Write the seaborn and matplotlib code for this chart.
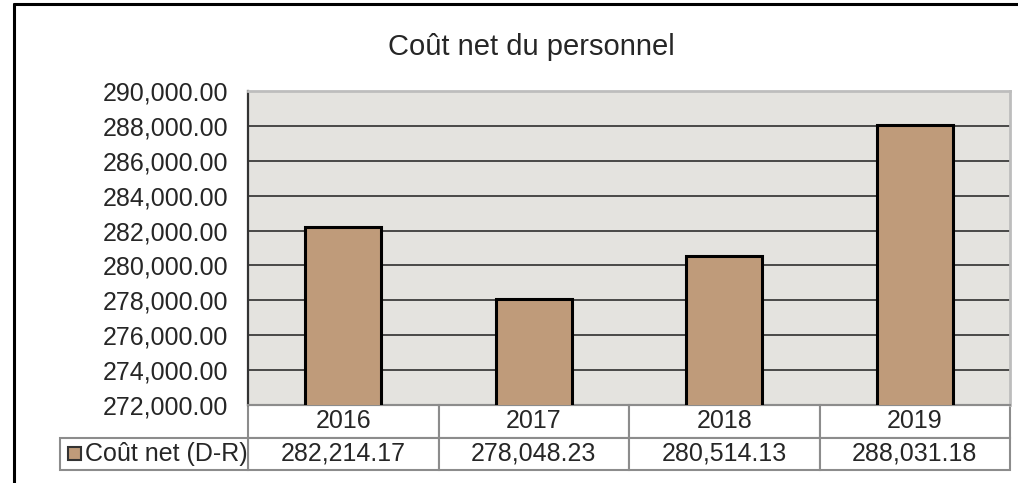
import matplotlib

matplotlib.use("Agg")

import matplotlib.pyplot as plt
import matplotlib.transforms as mtransforms
import pandas as pd
import seaborn as sns
from matplotlib.lines import Line2D
from matplotlib.patches import Rectangle

years = ["2016", "2017", "2018", "2019"]
net_cost = [282214.17, 278048.23, 280514.13, 288031.18]
series_label = "Coût net (D-R)"
title = "Coût net du personnel"
y_ticks = list(range(272000, 290001, 2000))

BAR = "#BF9B7A"
BG = "#E4E3DF"
GRID = "#3C3C3C"
CELL = "#8C8C8C"
FS = 18

sns.set_style("white")
plt.rcParams["font.family"] = ["Liberation Sans", "DejaVu Sans"]

df = pd.DataFrame({"year": years, "value": net_cost})

fig = plt.figure(figsize=(10.18, 4.83), dpi=100)
W, H = 1018, 483
ax = fig.add_axes([248 / W, (H - 405) / H, (1010 - 248) / W, (405 - 91) / H])
ax.set_facecolor(BG)

sns.barplot(data=df, x="year", y="value", color=BAR, width=0.4,
            edgecolor="black", linewidth=2.2, saturation=1, ax=ax, zorder=3)

ax.set_ylim(y_ticks[0], y_ticks[-1])
ax.set_xlim(-0.5, len(years) - 0.5)
ax.set_yticks(y_ticks)
ax.set_yticklabels([f"{v:,.2f}" for v in y_ticks], fontsize=FS)
ax.tick_params(axis="y", length=0, pad=14)
ax.set_xticks([])
ax.set_xlabel("")
ax.set_ylabel("")
for v in y_ticks[1:-1]:
    ax.axhline(v, color=GRID, lw=1.3, zorder=1)

for side in ["top", "right"]:
    ax.spines[side].set_color("#BDBDBD")
    ax.spines[side].set_linewidth(2)
ax.spines["left"].set_color("#333333")
ax.spines["left"].set_linewidth(1.6)
ax.spines["bottom"].set_color(CELL)
ax.spines["bottom"].set_linewidth(1.5)

fig.text(531 / W, 1 - 47 / H, title, fontsize=21, ha="center", va="center")

# data table below the plot area
trans = mtransforms.blended_transform_factory(ax.transData, ax.transAxes)
cat_px = (1010 - 248) / len(years)
row_h = 32.5 / 314
for i, (yr, val) in enumerate(zip(years, net_cost)):
    for r, txt in enumerate([yr, f"{val:,.2f}"]):
        y0 = -row_h * (r + 1)
        ax.add_patch(Rectangle((i - 0.5, y0), 1, row_h, transform=trans,
                               facecolor="white", edgecolor=CELL, lw=1.5,
                               clip_on=False, zorder=2))
        ax.text(i, y0 + row_h / 2, txt, transform=trans, ha="center",
                va="center", fontsize=FS, clip_on=False)

leg_w = 188 / cat_px
leg_x = -0.5 - leg_w
ax.add_patch(Rectangle((leg_x, -2 * row_h), leg_w, row_h, transform=trans,
                       facecolor="white", edgecolor=CELL, lw=1.5,
                       clip_on=False, zorder=2))
sq = 13
ax.add_patch(Rectangle((leg_x + 8 / cat_px, -1.5 * row_h - sq / 2 / 314),
                       sq / cat_px, sq / 314, transform=trans,
                       facecolor=BAR, edgecolor="#333333", lw=1.5,
                       clip_on=False, zorder=4))
ax.text(leg_x + 25 / cat_px, -1.5 * row_h, series_label, transform=trans,
        ha="left", va="center", fontsize=FS, clip_on=False)

# outer chart frame (cropped at right and bottom)
fig.add_artist(Line2D([14 / W, 14 / W], [0, 1 - 4 / H], color="black", lw=2.2))
fig.add_artist(Line2D([14 / W, 1], [1 - 4 / H, 1 - 4 / H], color="black", lw=2.2))

fig.savefig("out.png", dpi=100)
